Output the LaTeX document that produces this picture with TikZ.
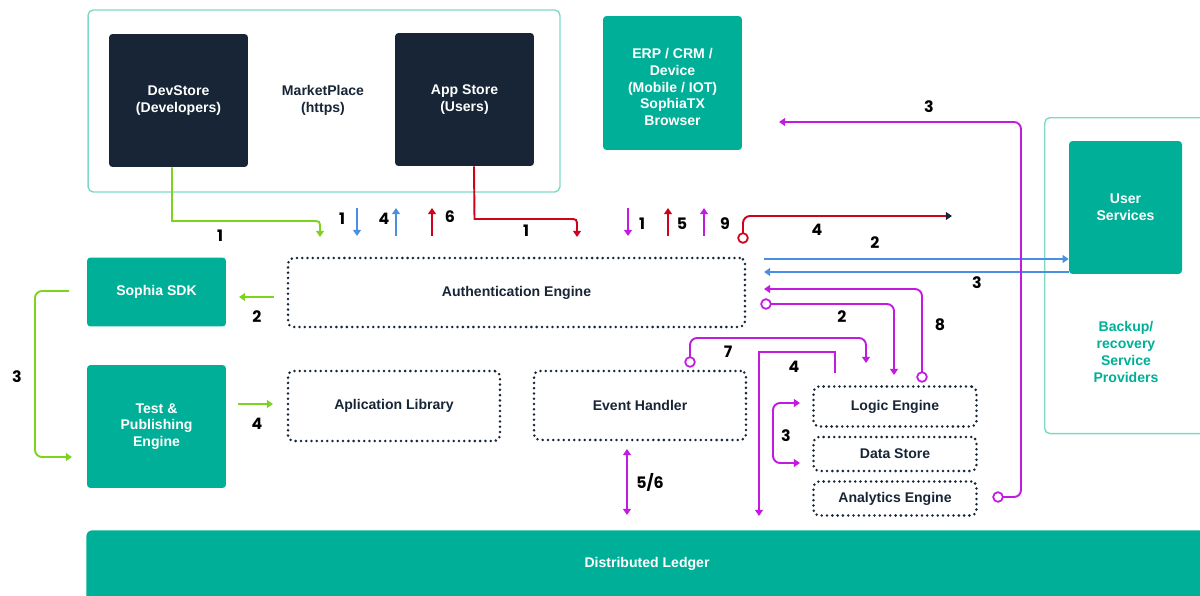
\documentclass[tikz,border=0pt]{standalone}
\usepackage{fontspec}
\setmainfont{Liberation Sans}
\newfontfamily\numfont{Poppins}
\usetikzlibrary{arrows.meta}
\definecolor{tealf}{HTML}{00AF97}
\definecolor{navy}{HTML}{172536}
\definecolor{tealline}{HTML}{7ED8C6}
\definecolor{lgreen}{HTML}{7ED321}
\definecolor{lblue}{HTML}{4A90E2}
\definecolor{lred}{HTML}{D0021B}
\definecolor{mag}{HTML}{C21AE0}
\begin{document}
\begin{tikzpicture}[x=0.02cm,y=-0.02cm,
  every node/.style={font=\bfseries\fontsize{8}{9.6}\selectfont},
  fillbox/.style={rounded corners=2pt, inner sep=0pt, align=center, text=white},
  tealbox/.style={fillbox, fill=tealf},
  navybox/.style={fillbox, fill=navy},
  dotbox/.style={draw=navy, line width=1.6pt, dash pattern=on 0pt off 3pt, line cap=round, rounded corners=3pt, text=navy, inner sep=0pt, align=center},
  frame/.style={draw=tealline, line width=0.8pt, rounded corners=3pt, inner sep=0pt},
  num/.style={font=\numfont\bfseries\fontsize{9}{10}\selectfont, text=black, inner sep=0pt},
  wire/.style={line width=1.1pt, rounded corners=4pt},
  tip/.style={-{Triangle[length=3.5pt,width=4.5pt]}},
  tips/.style={{Triangle[length=3.5pt,width=4.5pt]}-{Triangle[length=3.5pt,width=4.5pt]}},
  circ/.style={circle, draw=#1, fill=white, line width=1pt, minimum size=5.5pt, inner sep=0pt}
]
\clip (0,0) rectangle (1200,595);

% ---------- boxes ----------
\node[frame, minimum width=9.44cm, minimum height=3.64cm] (market) at (324,101) {};
\node[navybox, minimum width=2.78cm, minimum height=2.66cm] (dev) at (178.5,100.5) {DevStore\\(Developers)};
\node[text=navy, align=center] (mp) at (323,100) {MarketPlace\\(https)};
\node[navybox, minimum width=2.78cm, minimum height=2.66cm] (app) at (464.5,99.5) {App Store\\(Users)};
\node[tealbox, minimum width=2.78cm, minimum height=2.68cm] (erp) at (672.5,83) {};
\node[text=white, align=center] (erpt) at (672.5,87) {ERP / CRM /\\Device\\(Mobile / IOT)\\SophiaTX\\Browser};

\node[frame, minimum width=3.6cm, minimum height=6.32cm, anchor=north west] (bk) at (1044,117) {};
\node[tealbox, minimum width=2.26cm, minimum height=2.66cm] (user) at (1125.5,207.5) {User\\Services};
\node[text=tealf, align=center] (bkt) at (1126,352) {Backup/\\recovery\\Service\\Providers};

\node[tealbox, minimum width=2.78cm, minimum height=1.38cm] (sdk) at (156.5,292) {Sophia SDK};
\node[tealbox, minimum width=2.78cm, minimum height=2.46cm] (test) at (156.5,426.5) {Test \&\\Publishing\\Engine};

\node[dotbox, minimum width=9.14cm, minimum height=1.38cm] (auth) at (516.5,292.5) {Authentication Engine};
\node[dotbox, minimum width=4.24cm, minimum height=1.4cm] (lib) at (394,406) {Aplication Library};
\node[dotbox, minimum width=4.24cm, minimum height=1.38cm] (event) at (640,405.5) {Event Handler};
\node[dotbox, minimum width=3.26cm, minimum height=0.8cm] (logic) at (895,406.5) {Logic Engine};
\node[dotbox, minimum width=3.26cm, minimum height=0.68cm] (data) at (895,454) {Data Store};
\node[dotbox, minimum width=3.26cm, minimum height=0.68cm] (analytics) at (895,498.5) {Analytics Engine};

\node[fill=tealf, rounded corners=3pt, minimum width=23cm, minimum height=1.5cm, anchor=north west, inner sep=0pt] (ledger) at (86,530) {};
\node[text=white] (ledgert) at (647,564) {Distributed Ledger};

% ---------- green ----------
\coordinate (g1a) at ([xshift=-0.13cm]dev.south);
\draw[line width=1.1pt, lgreen, tip] (g1a) -- (172,221) -- (312,221) .. controls (320,221) .. (320,229) -- (320,237);
\node[num] (lg1) at (220,236) {1};
\draw[line width=1.1pt, lgreen, tip] (274,297) -- (239,297);
\node[num] (lg2) at (257,317) {2};
\draw[wire, lgreen, tip] (69,291) -- (35,291) -- (35,457) -- (72,457);
\node[num] (lg3) at (17,377) {3};
\draw[line width=1.1pt, lgreen, tip] (238,404) -- (273,404);
\node[num] (lg4) at (257,424) {4};

% ---------- blue ----------
\draw[line width=1.1pt, lblue, tip] (357,208) -- (357,236);
\node[num] (lb1) at (342,219) {1};
\draw[line width=1.1pt, lblue, tip] (396,236) -- (396,208);
\node[num] (lb4) at (384,219) {4};
\draw[line width=1.1pt, lblue, tip] (764,259) -- (user.west |- 0,259);
\node[num] (lb2) at (875,243) {2};
\draw[line width=1.1pt, lblue, tip] (user.west |- 0,272) -- (764,272);
\node[num] (lb3) at (977,283) {3};

% ---------- red ----------
\draw[line width=1.1pt, lred, tip] (432,236) -- (432,208);
\node[num] (lr6) at (450,217) {6};
\coordinate (r1a) at ([xshift=0.19cm]app.south);
\draw[line width=1.1pt, lred, tip] (r1a) -- (474.5,219) -- (569,219) .. controls (577,219) .. (577,227) -- (577,237);
\node[num] (lr1) at (526,231) {1};
\draw[line width=1.1pt, lred, tip] (668,236) -- (668,208);
\node[num] (lr5) at (682,224) {5};
\draw[wire, lred, -{Triangle[length=3.5pt,width=4.5pt,color=navy]}] (743,238) -- (743,216) -- (952,216);
\node[circ=lred] (rc4) at (743,238) {};
\node[num] (lr4) at (817,230) {4};

% ---------- magenta ----------
\draw[line width=1.1pt, mag, tip] (628,208) -- (628,236);
\node[num] (lm1) at (642,224) {1};
\draw[line width=1.1pt, mag, tip] (704,236) -- (704,208);
\node[num] (lm9) at (725,224) {9};

\draw[wire, mag, tip] (998,497) -- (1021,497) -- (1021,122) -- (779,122);
\node[circ=mag] (mc3) at (998,497) {};
\node[num] (lm3) at (929,107) {3};

\draw[wire, mag, tip] (922,377) -- (922,289) -- (764,289);
\node[circ=mag] (mc8) at (922,377) {};
\node[num] (lm8) at (940,325) {8};

\draw[wire, mag, tip] (766,304) -- (894,304) -- (894,375);
\node[circ=mag] (mc2) at (766,304) {};
\node[num] (lm2) at (842,317) {2};

\draw[wire, mag, tip] (690,362) -- (690,338) -- (866,338) -- (866,363);
\node[circ=mag] (mc7) at (690,362) {};
\node[num] (lm7) at (728,352) {7};

\draw[line width=1.1pt, mag, tip] (835,373) -- (835,352) -- (759,352) -- (759,516);
\node[num] (lm4) at (794,367) {4};

\draw[wire, mag, tips] (800,403) -- (773,403) -- (773,463) -- (800,463);
\node[num] (lm3b) at (786,436) {3};

\draw[line width=1.1pt, mag, tips] (627,449) -- (627,515);
\node[num] (lm56) at (650,482) {5/6};
\end{tikzpicture}
\end{document}
